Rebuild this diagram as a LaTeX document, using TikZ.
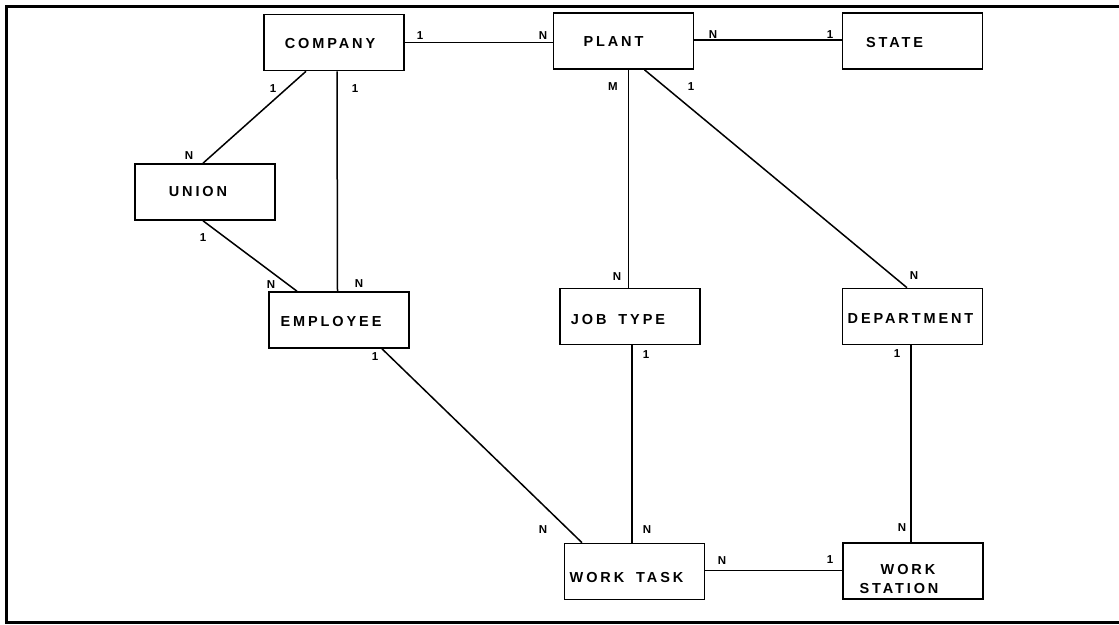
\documentclass[tikz,border=0pt]{standalone}
\usepackage{fontspec}
\setmainfont{Liberation Sans}
\newfontfamily\boxfont[LetterSpace=20]{Liberation Sans}
\newfontfamily\cardfont{Liberation Sans}
\begin{document}
\begin{tikzpicture}[x=1pt,y=-1pt,
  entity/.style={draw=black,line width=1.6pt,minimum width=140pt,minimum height=56pt,inner sep=0pt},
  etext/.style={inner sep=0pt,font=\boxfont\bfseries\fontsize{14.5}{19}\selectfont,align=center},
  card/.style={inner sep=0pt,font=\cardfont\bfseries\fontsize{11.5}{12}\selectfont},
  rel/.style={line width=1.5pt}]
\useasboundingbox (0,0) rectangle (1119,624);
\draw[line width=3pt] (1119,6) -- (6,6) -- (6,622) -- (1119,622);

% entities
\node[entity] (company) at (334,42.5) {};
\node[entity] (plant) at (623.5,41) {};
\node[entity] (state) at (912.5,41) {};
\node[entity] (union) at (205,192) {};
\node[entity] (employee) at (339,320) {};
\node[entity] (jobtype) at (630,316.5) {};
\node[entity] (department) at (912.5,316.5) {};
\node[entity] (worktask) at (634.5,571.5) {};
\node[entity] (workstation) at (913,571) {};

% entity texts
\node[etext] (t-company) at ([xshift=-4pt,yshift=-1pt]company.center) {COMPANY};
\node[etext] (t-plant) at ([xshift=-10pt,yshift=-1pt]plant.center) {PLANT};
\node[etext] (t-state) at ([xshift=-18pt,yshift=-2pt]state.center) {STATE};
\node[etext] (t-union) at ([xshift=-7pt,yshift=0pt]union.center) {UNION};
\node[etext] (t-employee) at ([xshift=-8pt,yshift=-2pt]employee.center) {EMPLOYEE};
\node[etext] (t-jobtype) at ([xshift=-12pt,yshift=-3pt]jobtype.center) {JOB\hspace{5pt} TYPE};
\node[etext] (t-department) at ([xshift=-2pt,yshift=-2pt]department.center) {DEPARTMENT};
\node[etext] (t-worktask) at ([xshift=-8pt,yshift=-6pt]worktask.center) {WORK\hspace{5pt} TASK};
\node[etext] (t-workstation) at ([xshift=-14pt,yshift=-8pt]workstation.center) {\hspace*{18pt}WORK\\STATION};

% relationships
\draw[rel] (company.east) -- (company.east -| plant.west);
\draw[rel] ([yshift=1pt]plant.east) -- ([yshift=1pt]plant.east -| state.west);
\draw[rel] ([xshift=-28pt]company.south) -- ([xshift=-2pt]union.north);
\draw[rel] ([xshift=3pt]company.south) -- ([xshift=-1.5pt]employee.north);
\draw[rel] ([xshift=-2pt]union.south) -- ([xshift=-42pt]employee.north);
\draw[rel] ([xshift=43pt]employee.south) -- ([xshift=-52.5pt]worktask.north);
\draw[rel] ([xshift=5pt]plant.south) -- ([xshift=-1.5pt]jobtype.north);
\draw[rel] ([xshift=21pt]plant.south) -- ([xshift=-5.5pt]department.north);
\draw[rel] ([xshift=2pt]jobtype.south) -- ([xshift=-2.5pt]worktask.north);
\draw[rel] ([xshift=-1.5pt]department.south) -- ([xshift=-2pt]workstation.north);
\draw[rel] ([yshift=1pt]worktask.east) -- ([yshift=1pt]worktask.east -| workstation.west);

% cardinalities
\node[card] (c1) at (420,36) {1};
\node[card] (c2) at (543,36) {N};
\node[card] (c3) at (713,35) {N};
\node[card] (c4) at (830,35) {1};
\node[card] (c5) at (273,89) {1};
\node[card] (c6) at (189,156) {N};
\node[card] (c7) at (355,89) {1};
\node[card] (c8) at (359,284) {N};
\node[card] (c9) at (203,238) {1};
\node[card] (c10) at (271,285) {N};
\node[card] (c11) at (375,357) {1};
\node[card] (c12) at (543,530) {N};
\node[card] (c13) at (613,87) {M};
\node[card] (c14) at (617,277) {N};
\node[card] (c15) at (691,87) {1};
\node[card] (c16) at (914,276) {N};
\node[card] (c17) at (646,355) {1};
\node[card] (c18) at (647,530) {N};
\node[card] (c19) at (897,354) {1};
\node[card] (c20) at (902,528) {N};
\node[card] (c21) at (722,561) {N};
\node[card] (c22) at (830,560) {1};
\end{tikzpicture}
\end{document}
